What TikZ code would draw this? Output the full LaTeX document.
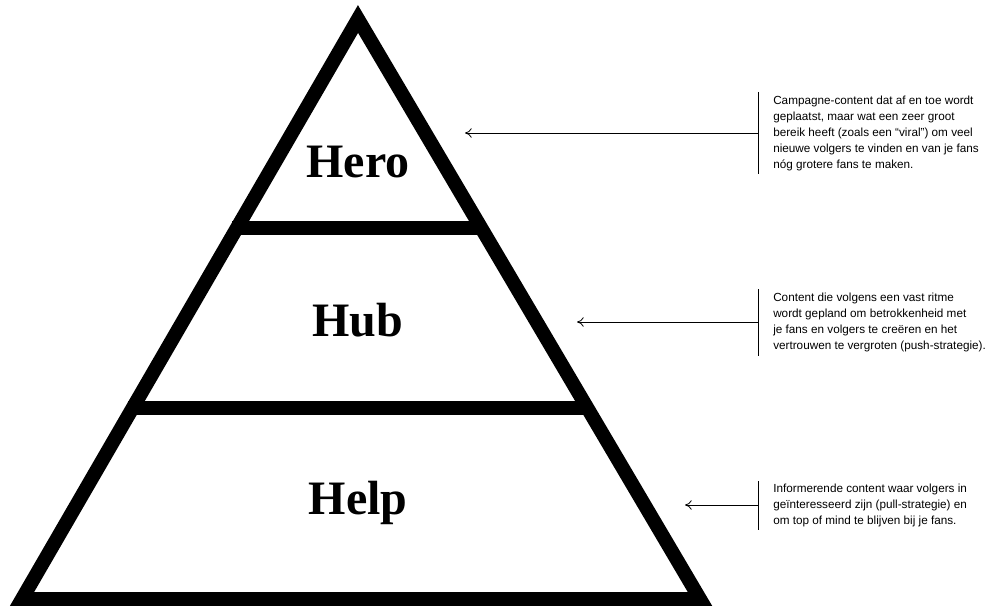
\documentclass[tikz,border=0pt]{standalone}
\usepackage{fontspec}
\setmainfont{Liberation Sans}
\newfontfamily\levelfont{Liberation Serif}
\usetikzlibrary{arrows.meta}
\begin{document}
\begin{tikzpicture}[x=0.75pt,y=-0.75pt,
  level/.style={font=\levelfont\bfseries\fontsize{36}{36}\selectfont},
  note/.style={anchor=west,align=left,font=\fontsize{8.8}{12}\selectfont,inner sep=0pt},
  pointer/.style={draw,line width=0.6pt,-{To[length=5pt,width=7pt]}}]
\useasboundingbox (0,0) rectangle (1000,606);
\coordinate (top) at (358,19);
\coordinate (bl) at (22,599);
\coordinate (br) at (700,599);
\draw[line width=10.5pt,line join=miter] (top) -- (bl) -- (br) -- cycle;
\draw[line width=10.5pt] (232,228) -- (484,228);
\draw[line width=10.5pt] (128,408) -- (590,408);
\node[level] (hero) at (358,162) {Hero};
\node[level] (hub) at (358,320) {Hub};
\node[level] (help) at (358,503) {Help};
% notes
\node[note] (n1) at (773,133) {Campagne-content dat af en toe wordt\\geplaatst, maar wat een zeer groot\\bereik heeft (zoals een “viral”) om veel\\nieuwe volgers te vinden en van je fans\\nóg grotere fans te maken.};
\node[note] (n2) at (773,322) {Content die volgens een vast ritme\\wordt gepland om betrokkenheid met\\je fans en volgers te creëren en het\\vertrouwen te vergroten (push-strategie).};
\node[note] (n3) at (773,505) {Informerende content waar volgers in\\geïnteresseerd zijn (pull-strategie) en\\om top of mind te blijven bij je fans.};
\coordinate (a1) at (758,133);
\coordinate (a2) at (758,322);
\coordinate (a3) at (758,505);
\draw[line width=0.6pt] (758,92) -- (758,174);
\draw[line width=0.6pt] (758,289) -- (758,356);
\draw[line width=0.6pt] (758,481) -- (758,530);
\draw[pointer] (a1) -- (465,133);
\draw[pointer] (a2) -- (577,322);
\draw[pointer] (a3) -- (685,505);
\end{tikzpicture}
\end{document}
